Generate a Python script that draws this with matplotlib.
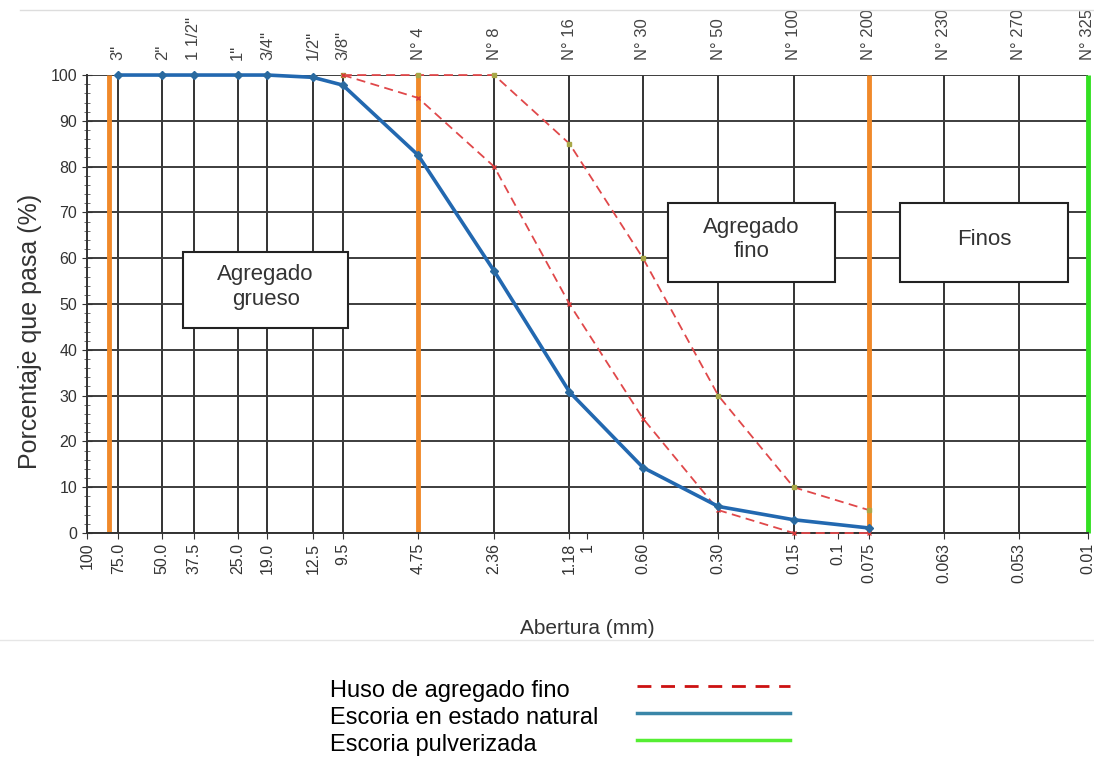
import matplotlib
matplotlib.use("Agg")
import matplotlib.pyplot as plt
from matplotlib.lines import Line2D
from matplotlib.patches import Rectangle

plt.rcParams['font.family'] = ['Liberation Sans', 'DejaVu Sans']

# aberturas de tamices (mm) y curvas granulometricas
sizes_mm = [75.0, 50.0, 37.5, 25.0, 19.0, 12.5, 9.5, 4.75, 2.36, 1.18, 0.60, 0.30, 0.15, 0.075]
natural = [100, 100, 100, 100, 100, 99.5, 97.8, 82.5, 57.2, 30.8, 14.3, 5.8, 2.9, 1.1]

huso_sizes = [9.5, 4.75, 2.36, 1.18, 0.60, 0.30, 0.15, 0.075]
huso_upper = [100, 100, 100, 85, 60, 30, 10, 5]
huso_lower = [100, 95, 80, 50, 25, 5, 0, 0]

# tamices (arriba) - N° 230 y N° 270 quedan donde los puso el grafico original
sieve_pos = sizes_mm + [0.0377, 0.0189, 0.01]
sieve_names = ['3"', '2"', '1 1/2"', '1"', '3/4"', '1/2"', '3/8"', 'N° 4', 'N° 8', 'N° 16',
               'N° 30', 'N° 50', 'N° 100', 'N° 200', 'N° 230', 'N° 270', 'N° 325']

bottom_pos = [100] + sieve_pos + [1, 0.1]
bottom_labels = ['100', '75.0', '50.0', '37.5', '25.0', '19.0', '12.5', '9.5', '4.75', '2.36',
                 '1.18', '0.60', '0.30', '0.15', '0.075', '0.063', '0.053', '0.01', '1', '0.1']

limits_pos = [82, 4.75, 0.075]   # limites grueso / fino / finos
pulverizada_pos = [0.01]

legend_labels = ['Huso de agregado fino', 'Escoria en estado natural', 'Escoria pulverizada']

fig = plt.figure(figsize=(10.94, 7.58), dpi=100)
ax = fig.add_axes([0.0795, 0.2968, 0.915, 0.6042])

ax.set_xscale('log')
ax.set_xlim(100, 0.01)
ax.set_ylim(0, 100)

# cuadricula
ax.vlines(sieve_pos, 0, 100, color='#333333', lw=1.4, zorder=1)
for yv in range(0, 101, 10):
    ax.axhline(yv, color='#3d3d3d', lw=1.4, zorder=1)

ax.vlines(limits_pos, 0, 100, color='#f0892a', lw=3.5, zorder=2)
ax.vlines(pulverizada_pos, 0, 100, color='#33e022', lw=3.5, zorder=2, clip_on=False)

# curvas
ax.plot(huso_sizes, huso_upper, color='#e0484a', lw=1.3, ls=(0, (5, 3)),
        marker='s', ms=3.5, mfc='#a8a848', mec='#a8a848', zorder=3, clip_on=False)
ax.plot(huso_sizes, huso_lower, color='#e0484a', lw=1.3, ls=(0, (5, 3)),
        marker='x', ms=3.5, mec='#d83838', zorder=3, clip_on=False)
ax.plot(sizes_mm, natural, color='#2268b0', lw=2.6, marker='D', ms=4,
        mfc='#2a6aa0', mec='#2a6aa0', zorder=4, clip_on=False)

# ejes
ax.xaxis.set_minor_locator(matplotlib.ticker.NullLocator())
ax.set_xticks(bottom_pos)
ax.set_xticklabels(bottom_labels, rotation=90, fontsize=11.5, color='#333333')
ax.tick_params(axis='x', length=4, color='#333333', pad=3)

ax.set_yticks(range(0, 101, 10))
ax.set_yticks(range(0, 101, 2), minor=True)
ax.tick_params(axis='y', which='major', labelsize=11.5, labelcolor='#333333',
               direction='inout', length=7, color='#333333')
ax.tick_params(axis='y', which='minor', direction='inout', length=4, color='#555555')

for side in ['top', 'right']:
    ax.spines[side].set_visible(False)
for side in ['left', 'bottom']:
    ax.spines[side].set_color('#333333')
    ax.spines[side].set_linewidth(1.4)

ax.set_xlabel('Abertura (mm)', fontsize=15, color='#333333', labelpad=26)
ax.set_ylabel('Porcentaje que pasa (%)', fontsize=18, color='#333333', labelpad=3)
ax.yaxis.set_label_coords(-0.045, 0.44)

top = ax.twiny()
top.set_xscale('log')
top.set_xlim(ax.get_xlim())
top.xaxis.set_minor_locator(matplotlib.ticker.NullLocator())
top.set_xticks(sieve_pos)
top.set_xticklabels(sieve_names, rotation=90, fontsize=12, color='#444444')
top.tick_params(axis='x', length=0, pad=11)
for s in top.spines.values():
    s.set_visible(False)

# cuadros de zonas
boxes = [(0.096, 0.448, 0.165, 0.166, 'Agregado\ngrueso'),
         (0.580, 0.548, 0.167, 0.173, 'Agregado\nfino'),
         (0.812, 0.548, 0.168, 0.173, 'Finos')]
for bx, by, bw, bh, txt in boxes:
    ax.add_patch(Rectangle((bx, by), bw, bh, transform=ax.transAxes, facecolor='white',
                           edgecolor='#222222', lw=1.5, zorder=5))
    ax.text(bx + bw / 2, by + bh / 2 + 0.006, txt, transform=ax.transAxes, ha='center',
            va='center', fontsize=16, color='#333333', zorder=6)

# leyenda
leg_styles = [dict(color='#cc1111', lw=2, ls=(0, (5, 3.5))),
              dict(color='#3a86a8', lw=2.5, ls='-'),
              dict(color='#55ee33', lw=2.5, ls='-')]
for i, (lab, st) in enumerate(zip(legend_labels, leg_styles)):
    yy = 1 - (688 + 27 * i) / 758
    fig.text(330 / 1094, yy - 0.004, lab, fontsize=17, va='center', ha='left', color='black')
    fig.add_artist(Line2D([637 / 1094, 790 / 1094], [yy + 0.002, yy + 0.002], **st))

# bordes del recorte original
fig.add_artist(Line2D([20 / 1094, 1], [1 - 10 / 758, 1 - 10 / 758], color='#dddddd', lw=1))
fig.add_artist(Line2D([0, 1], [1 - 640 / 758, 1 - 640 / 758], color='#e6e6e6', lw=1))

fig.savefig('out.png', dpi=100)
